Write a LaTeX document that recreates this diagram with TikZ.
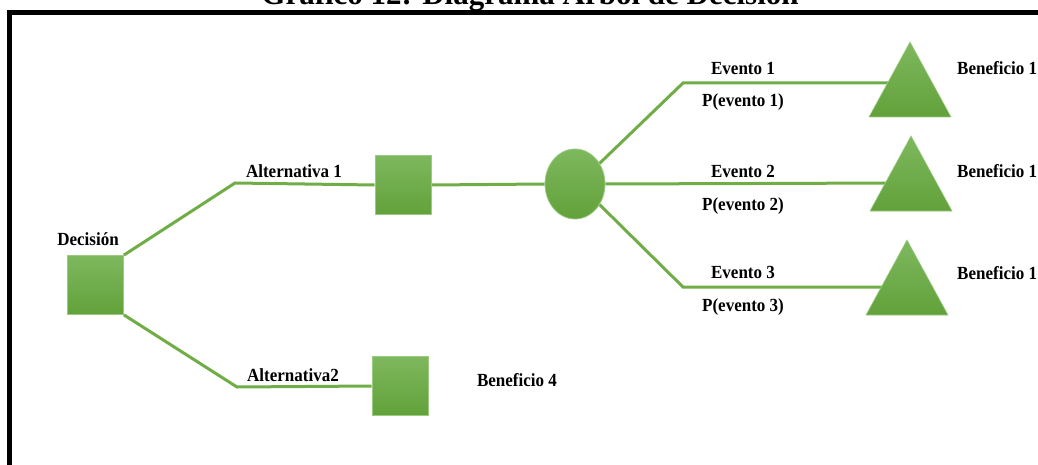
\documentclass[tikz,border=0pt]{standalone}
\usepackage{fontspec}
\setmainfont{Liberation Serif}
\newfontfamily\lblfont[FakeStretch=0.92]{Liberation Serif}
\usetikzlibrary{shapes.geometric,backgrounds}
\definecolor{gline}{HTML}{70AD47}
\definecolor{gtop}{HTML}{7EB85E}
\definecolor{gbot}{HTML}{62A13A}
\definecolor{gedge}{HTML}{9BCB80}
\tikzset{
  conn/.style={draw=gline, line width=3pt},
  sq/.style={draw=gedge, line width=0.8pt, top color=gtop, bottom color=gbot, inner sep=0pt, minimum width=56pt, minimum height=59pt},
  chance/.style={ellipse, draw=gedge, line width=0.8pt, top color=gtop, bottom color=gbot, inner sep=0pt, minimum width=60pt, minimum height=70pt},
  tri/.style={draw=gedge, line width=0.6pt, top color=gtop, bottom color=gbot},
  lbl/.style={font=\lblfont\fontsize{18.5}{21}\selectfont\bfseries, inner sep=0pt},
  ttl/.style={font=\fontsize{31}{36}\selectfont\bfseries, inner sep=0pt}
}
\begin{document}
\begin{tikzpicture}[x=1pt, y=-1pt]
\useasboundingbox (0,0) rectangle (1038,465);
\clip (0,0) rectangle (1038,465);
% title (cut off at top, as in the reference) and frame
\node[ttl, anchor=base] (title) at (530,4.5) {Gráfico 12: Diagrama Árbol de Decisión};
\draw[line width=5pt] (9.5,520) -- (9.5,13) -- (1100,13);
% nodes
\node[sq] (dec) at (95.5,285) {};
\node[sq] (alt1) at (403,185) {};
\node[sq] (alt2) at (400,386) {};
\node[chance] (ch) at (575,184) {};
% bends and triangle attachment points
\coordinate (a1b) at (235,183);
\coordinate (a2b) at (237,387);
\coordinate (e1b) at (683,83);
\coordinate (e3b) at (683,287);
\coordinate (t1) at (895,83);
\coordinate (t2) at (900,183);
\coordinate (t3) at (890,287);
% connectors behind nodes
\begin{scope}[on background layer]
\draw[conn] (dec.north east) -- (a1b) -- (alt1.west);
\draw[conn] (dec.south east) -- (a2b) -- (alt2.west);
\draw[conn] (alt1.east) -- (ch.west);
\draw[conn] (ch.40) -- (e1b) -- (t1);
\draw[conn] (ch.east) -- (t2);
\draw[conn] (ch.-40) -- (e3b) -- (t3);
\end{scope}
% triangles
\path[tri] (869,117) -- (910,42) -- (951,117) -- cycle;
\path[tri] (870,211) -- (911,136) -- (952,211) -- cycle;
\path[tri] (866,315) -- (907,240) -- (948,315) -- cycle;
% labels
\node[lbl] (ldec) at (88,239) {Decisión};
\node[lbl] (la1) at (294,171) {Alternativa 1};
\node[lbl] (la2) at (293,375) {Alternativa2};
\node[lbl] (lb4) at (517,380) {Beneficio 4};
\node[lbl] (le1) at (743,68) {Evento 1};
\node[lbl] (lp1) at (743,102) {P(evento 1)};
\node[lbl] (le2) at (743,171) {Evento 2};
\node[lbl] (lp2) at (743,206) {P(evento 2)};
\node[lbl] (le3) at (743,272) {Evento 3};
\node[lbl] (lp3) at (743,307) {P(evento 3)};
\node[lbl, anchor=west] (lb1) at (957,68) {Beneficio 1};
\node[lbl, anchor=west] (lb2) at (957,171) {Beneficio 1};
\node[lbl, anchor=west] (lb3) at (957,273) {Beneficio 1};
\end{tikzpicture}
\end{document}
